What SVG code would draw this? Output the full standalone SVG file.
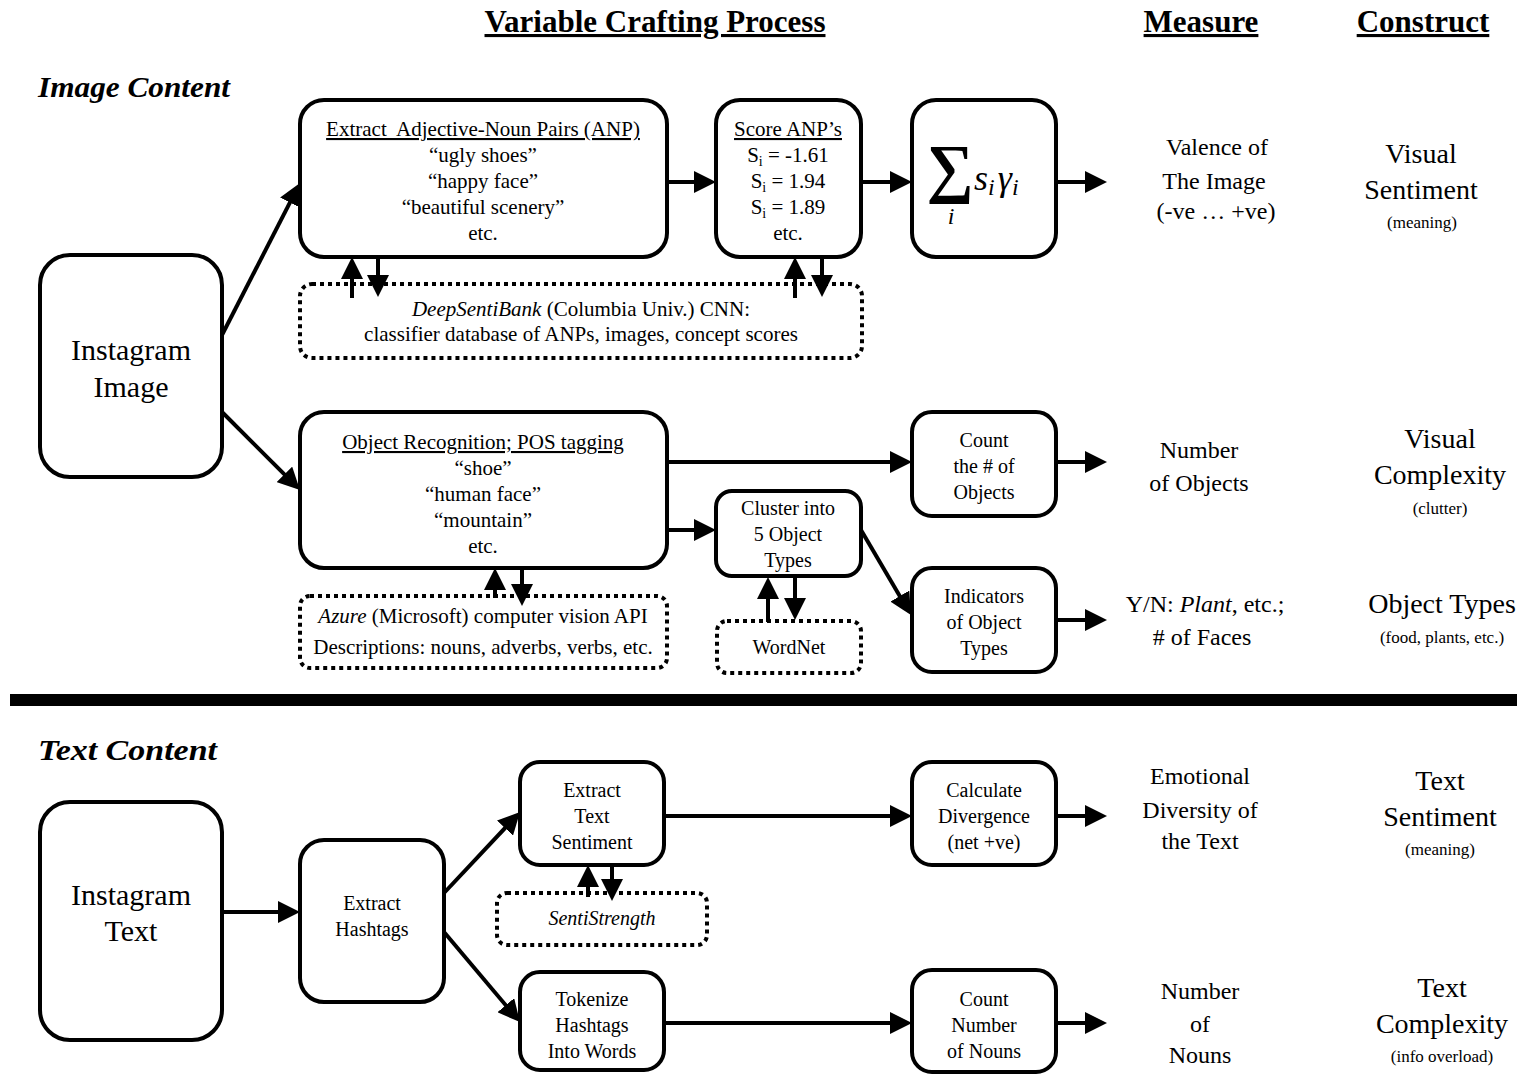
<svg xmlns="http://www.w3.org/2000/svg" width="1530" height="1075" viewBox="0 0 1530 1075">
  <style>
    text { font-family: "Liberation Serif", "Times New Roman", serif; fill: #000; text-anchor: middle; }
    .box { fill: #fff; stroke: #000; stroke-width: 4; }
    .dot { fill: none; stroke: #000; stroke-width: 4; stroke-dasharray: 4 4; }
    .conn { stroke: #000; stroke-width: 4; fill: none; }
    .head { font-weight: bold; font-size: 31px; text-decoration: underline; }
    .sect { font-weight: bold; font-style: italic; font-size: 30px; text-anchor: start; }
    .t21 { font-size: 21px; }
    .t20 { font-size: 20px; }
    .big { font-size: 30px; }
    .meas { font-size: 24px; }
    .cons { font-size: 28px; }
    .note { font-size: 17px; }
    .ul { text-decoration: underline; }
  </style>
  <defs>
    <marker id="arrow" viewBox="0 0 22 22" markerWidth="22" markerHeight="22" refX="12" refY="11" orient="auto" markerUnits="userSpaceOnUse">
      <path d="M0,0 L22,11 L0,22 z" fill="#000"/>
    </marker>
  </defs>

  <!-- column headings -->
  <g id="headings">
    <text class="head" x="655" y="32">Variable Crafting Process</text>
    <text class="head" x="1201" y="32">Measure</text>
    <text class="head" x="1423" y="32">Construct</text>
    <text class="sect" x="38" y="97" textLength="192" lengthAdjust="spacingAndGlyphs">Image Content</text>
    <text class="sect" x="38" y="760" textLength="179" lengthAdjust="spacingAndGlyphs">Text Content</text>
  </g>

  <!-- connectors -->
  <g id="connectors" class="conn" marker-end="url(#arrow)">
    <line x1="222" y1="335" x2="295.4" y2="191.9"/>
    <line x1="222" y1="412" x2="292.9" y2="482.9"/>
    <line x1="667" y1="182" x2="706" y2="182"/>
    <line x1="861" y1="182" x2="902" y2="182"/>
    <line x1="1056" y1="182" x2="1097" y2="182"/>
    <line x1="352" y1="298" x2="352" y2="267"/>
    <line x1="378" y1="257" x2="378" y2="287"/>
    <line x1="795" y1="298" x2="795" y2="267"/>
    <line x1="822" y1="257" x2="822" y2="287"/>
    <line x1="667" y1="462" x2="902" y2="462"/>
    <line x1="1056" y1="462" x2="1097" y2="462"/>
    <line x1="667" y1="530" x2="706" y2="530"/>
    <line x1="861" y1="530" x2="905.9" y2="606.4"/>
    <line x1="1056" y1="620" x2="1097" y2="620"/>
    <line x1="495" y1="598" x2="495" y2="578"/>
    <line x1="522" y1="568" x2="522" y2="596"/>
    <line x1="768" y1="622" x2="768" y2="587"/>
    <line x1="795" y1="577" x2="795" y2="610"/>
    <line x1="222" y1="912" x2="290" y2="912"/>
    <line x1="444" y1="893" x2="513.2" y2="819.3"/>
    <line x1="444" y1="932" x2="513.5" y2="1014.4"/>
    <line x1="664" y1="816" x2="902" y2="816"/>
    <line x1="1056" y1="816" x2="1097" y2="816"/>
    <line x1="588" y1="897" x2="588" y2="875"/>
    <line x1="612" y1="865" x2="612" y2="891"/>
    <line x1="664" y1="1023" x2="902" y2="1023"/>
    <line x1="1056" y1="1023" x2="1097" y2="1023"/>
  </g>

  <!-- image branch -->
  <g id="instagram-image">
    <rect class="box" x="40" y="255" width="182" height="222" rx="30"/>
    <text class="big" x="131" y="360">Instagram</text>
    <text class="big" x="131" y="397">Image</text>
  </g>

  <g id="extract-anp">
    <rect class="box" x="300" y="100" width="367" height="157" rx="24"/>
    <text class="t21 ul" x="483" y="136" xml:space="preserve">Extract  Adjective-Noun Pairs (ANP)</text>
    <text class="t21" x="483" y="162">“ugly shoes”</text>
    <text class="t21" x="483" y="188">“happy face”</text>
    <text class="t21" x="483" y="214">“beautiful scenery”</text>
    <text class="t21" x="483" y="240">etc.</text>
  </g>

  <g id="score-anp">
    <rect class="box" x="716" y="100" width="145" height="157" rx="24"/>
    <text class="t21 ul" x="788" y="136">Score ANP’s</text>
    <text class="t21" x="788" y="162">S<tspan font-size="14" dy="4">i</tspan><tspan dy="-4"> = -1.61</tspan></text>
    <text class="t21" x="788" y="188">S<tspan font-size="14" dy="4">i</tspan><tspan dy="-4"> = 1.94</tspan></text>
    <text class="t21" x="788" y="214">S<tspan font-size="14" dy="4">i</tspan><tspan dy="-4"> = 1.89</tspan></text>
    <text class="t21" x="788" y="240">etc.</text>
  </g>

  <g id="weighted-sum">
    <rect class="box" x="912" y="100" width="144" height="157" rx="24"/>
    <text x="950" y="190" font-size="66" font-weight="bold">∑</text>
    <text x="951" y="224" font-size="24" font-style="italic">i</text>
    <text x="974" y="190" font-size="36" font-style="italic" style="text-anchor:start">s<tspan font-size="24" dy="5">i</tspan><tspan dy="-5" dx="3">γ</tspan><tspan font-size="24" dy="5">i</tspan></text>
  </g>

  <g id="deepsentibank">
    <rect class="dot" x="300" y="284" width="562" height="74" rx="12"/>
    <text class="t21" x="581" y="316"><tspan font-style="italic">DeepSentiBank</tspan> (Columbia Univ.) CNN:</text>
    <text class="t21" x="581" y="341">classifier database of ANPs, images, concept scores</text>
  </g>

  <g id="object-recognition">
    <rect class="box" x="300" y="412" width="367" height="156" rx="24"/>
    <text class="t21 ul" x="483" y="449">Object Recognition; POS tagging</text>
    <text class="t21" x="483" y="475">“shoe”</text>
    <text class="t21" x="483" y="501">“human face”</text>
    <text class="t21" x="483" y="527">“mountain”</text>
    <text class="t21" x="483" y="553">etc.</text>
  </g>

  <g id="azure">
    <rect class="dot" x="300" y="596" width="367" height="72" rx="10"/>
    <text class="t21" x="483" y="623"><tspan font-style="italic">Azure</tspan> (Microsoft) computer vision API</text>
    <text class="t21" x="483" y="654">Descriptions: nouns, adverbs, verbs, etc.</text>
  </g>

  <g id="count-objects">
    <rect class="box" x="912" y="412" width="144" height="104" rx="20"/>
    <text class="t20" x="984" y="447">Count</text>
    <text class="t20" x="984" y="473">the # of</text>
    <text class="t20" x="984" y="499">Objects</text>
  </g>

  <g id="cluster-types">
    <rect class="box" x="716" y="491" width="145" height="85" rx="16"/>
    <text class="t20" x="788" y="515">Cluster into</text>
    <text class="t20" x="788" y="541">5 Object</text>
    <text class="t20" x="788" y="567">Types</text>
  </g>

  <g id="wordnet">
    <rect class="dot" x="717" y="621" width="144" height="52" rx="10"/>
    <text class="t20" x="789" y="654">WordNet</text>
  </g>

  <g id="indicators">
    <rect class="box" x="912" y="568" width="144" height="104" rx="20"/>
    <text class="t20" x="984" y="603">Indicators</text>
    <text class="t20" x="984" y="629">of Object</text>
    <text class="t20" x="984" y="655">Types</text>
  </g>

  <!-- measures and constructs, image part -->
  <g id="measure-valence">
    <text class="meas" x="1217" y="155">Valence of</text>
    <text class="meas" x="1214" y="189">The Image</text>
    <text class="meas" x="1216" y="219">(-ve … +ve)</text>
  </g>
  <g id="construct-visual-sentiment">
    <text class="cons" x="1421" y="163">Visual</text>
    <text class="cons" x="1421" y="199">Sentiment</text>
    <text class="note" x="1422" y="228">(meaning)</text>
  </g>
  <g id="measure-objects">
    <text class="meas" x="1199" y="458">Number</text>
    <text class="meas" x="1199" y="491">of Objects</text>
  </g>
  <g id="construct-visual-complexity">
    <text class="cons" x="1440" y="448">Visual</text>
    <text class="cons" x="1440" y="484">Complexity</text>
    <text class="note" x="1440" y="514">(clutter)</text>
  </g>
  <g id="measure-types">
    <text class="meas" x="1205" y="612">Y/N: <tspan font-style="italic">Plant</tspan>, etc.;</text>
    <text class="meas" x="1202" y="645"># of Faces</text>
  </g>
  <g id="construct-object-types">
    <text class="cons" x="1442" y="613">Object Types</text>
    <text class="note" x="1442" y="643">(food, plants, etc.)</text>
  </g>

  <!-- divider between image and text sections -->
  <rect id="divider" x="10" y="694" width="1507" height="12" fill="#000"/>

  <!-- text branch -->
  <g id="instagram-text">
    <rect class="box" x="40" y="802" width="182" height="238" rx="30"/>
    <text class="big" x="131" y="905">Instagram</text>
    <text class="big" x="131" y="941">Text</text>
  </g>

  <g id="extract-hashtags">
    <rect class="box" x="300" y="840" width="144" height="162" rx="24"/>
    <text class="t20" x="372" y="910">Extract</text>
    <text class="t20" x="372" y="936">Hashtags</text>
  </g>

  <g id="text-sentiment">
    <rect class="box" x="520" y="762" width="144" height="103" rx="20"/>
    <text class="t20" x="592" y="797">Extract</text>
    <text class="t20" x="592" y="823">Text</text>
    <text class="t20" x="592" y="849">Sentiment</text>
  </g>

  <g id="sentistrength">
    <rect class="dot" x="497" y="893" width="210" height="52" rx="10"/>
    <text class="t20" x="602" y="925" font-style="italic">SentiStrength</text>
  </g>

  <g id="tokenize">
    <rect class="box" x="520" y="972" width="144" height="98" rx="20"/>
    <text class="t20" x="592" y="1006">Tokenize</text>
    <text class="t20" x="592" y="1032">Hashtags</text>
    <text class="t20" x="592" y="1058">Into Words</text>
  </g>

  <g id="divergence">
    <rect class="box" x="912" y="762" width="144" height="103" rx="20"/>
    <text class="t20" x="984" y="797">Calculate</text>
    <text class="t20" x="984" y="823">Divergence</text>
    <text class="t20" x="984" y="849">(net +ve)</text>
  </g>

  <g id="count-nouns">
    <rect class="box" x="912" y="970" width="144" height="102" rx="20"/>
    <text class="t20" x="984" y="1006">Count</text>
    <text class="t20" x="984" y="1032">Number</text>
    <text class="t20" x="984" y="1058">of Nouns</text>
  </g>

  <g id="measure-diversity">
    <text class="meas" x="1200" y="784">Emotional</text>
    <text class="meas" x="1200" y="818">Diversity of</text>
    <text class="meas" x="1200" y="849">the Text</text>
  </g>
  <g id="construct-text-sentiment">
    <text class="cons" x="1440" y="790">Text</text>
    <text class="cons" x="1440" y="826">Sentiment</text>
    <text class="note" x="1440" y="855">(meaning)</text>
  </g>
  <g id="measure-nouns">
    <text class="meas" x="1200" y="999">Number</text>
    <text class="meas" x="1200" y="1032">of</text>
    <text class="meas" x="1200" y="1063">Nouns</text>
  </g>
  <g id="construct-text-complexity">
    <text class="cons" x="1442" y="997">Text</text>
    <text class="cons" x="1442" y="1033">Complexity</text>
    <text class="note" x="1442" y="1062">(info overload)</text>
  </g>
</svg>
